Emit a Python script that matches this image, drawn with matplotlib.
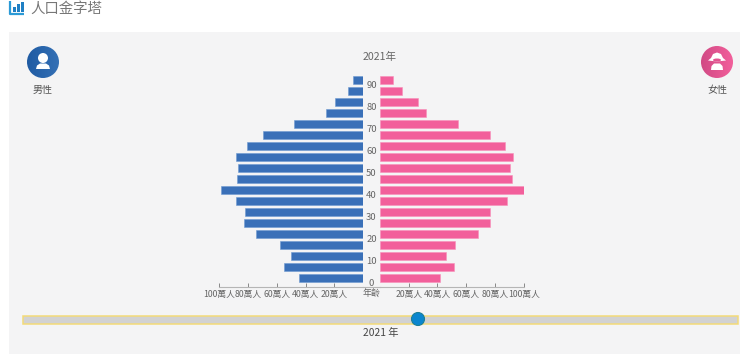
"""
Population pyramid for 2021
"""

import matplotlib
matplotlib.use('Agg')
import matplotlib.pyplot as plt
import numpy as np
from matplotlib.patches import Circle, Rectangle, Ellipse, Polygon

plt.rcParams['font.family'] = ['Noto Sans CJK TC', 'DejaVu Sans']

# Data, in units of 10,000 people, youngest group first
age_groups = [0, 5, 10, 15, 20, 25, 30, 35, 40, 45, 50, 55, 60, 65, 70, 75, 80, 85, 90]
male = [44.8, 55, 49.9, 57.5, 74.2, 82.6, 81.9, 88.3, 98.6, 88, 87.2, 88.6, 81, 69.6, 47.8, 25.5, 19.2, 10.2, 6.7]
female = [41.7, 51.2, 45.9, 52.2, 68.2, 76.5, 76.5, 88.6, 101, 91.8, 90.2, 92.5, 87, 76.8, 54.5, 31.8, 26.7, 15.5, 8.8]
x_ticks = [20, 40, 60, 80, 100]
age_ticks = [0, 10, 20, 30, 40, 50, 60, 70, 80, 90]

W, H = 740, 354
BLUE = '#3a70b8'
PINK = '#f25f9b'
GRAY = '#666666'

fig = plt.figure(figsize=(W / 100, H / 100), dpi=100, facecolor='white')


def axes_px(x0, y0, x1, y1, **kwargs):
    """Axes placed by pixel box, y measured from the top"""
    return fig.add_axes([x0 / W, 1 - y1 / H, (x1 - x0) / W, (y1 - y0) / H], **kwargs)


# Background layer in pixel coordinates
bg = axes_px(0, 0, W, H)
bg.set_xlim(0, W)
bg.set_ylim(H, 0)
bg.axis('off')
bg.add_patch(Rectangle((9, 32), 731, 322, facecolor='#f4f4f5', edgecolor='none'))


def gradient_circle(cx, cy, r, dark, light):
    """Circle badge with a left to right colour gradient"""
    c0 = np.array(matplotlib.colors.to_rgb(dark))
    c1 = np.array(matplotlib.colors.to_rgb(light))
    t = np.linspace(0, 1, 64)[None, :, None]
    img = bg.imshow(c0 + (c1 - c0) * t, extent=(cx - r, cx + r, cy + r, cy - r),
                    aspect='auto', zorder=2)
    img.set_clip_path(Circle((cx, cy), r, transform=bg.transData))


gradient_circle(43, 62, 16, '#1f5ba3', '#3470b5')
bg.add_patch(Circle((43, 58), 5, facecolor='white', zorder=3))
bg.add_patch(Polygon([(36, 69), (37, 65.5), (40, 63.5), (46, 63.5), (49, 65.5), (50, 69)],
                     facecolor='white', zorder=3))

gradient_circle(717, 62, 16, '#d14a85', '#f25f9b')
bg.add_patch(Polygon([(717, 52.5), (721, 54), (723, 58), (726, 60.5), (717, 61.5),
                      (708, 60.5), (711, 58), (713, 54)], facecolor='white', zorder=3))
bg.add_patch(Ellipse((717, 60), 8, 3, facecolor='#e2548f', zorder=3))
bg.add_patch(Polygon([(711, 70), (711.5, 66), (714, 63.5), (720, 63.5), (722.5, 66), (723, 70)],
                     facecolor='white', zorder=3))

bg.text(43, 90, '男性', ha='center', va='center', fontsize=7.2, color='#555555')
bg.text(717, 90.5, '女性', ha='center', va='center', fontsize=7.2, color='#555555')
bg.text(380, 56.5, '2021年', ha='center', va='center', fontsize=7.6, color=GRAY)

# Title and its icon
bg.plot([10, 10, 24], [1, 13.5, 13.5], color='#2b9ad6', linewidth=1.6, solid_capstyle='butt')
for bx, top in [(12.5, 7), (16.5, 4), (20.5, 1.5)]:
    bg.add_patch(Rectangle((bx, top), 3.2, 12 - top, facecolor='#1f7fc4', edgecolor='none'))
bg.text(30, 9, '人口金字塔', ha='left', va='center', fontsize=10.4, color='#777777')

# Year slider
bg.add_patch(Rectangle((22.5, 315.5), 715, 8, facecolor='#d2d2d2', edgecolor='#f3da78', linewidth=1.1))
bg.add_patch(Circle((418, 319), 6.5, facecolor='#0a86cf', edgecolor='#1c7f96', linewidth=0.8, zorder=3))
bg.text(380.5, 332.5, '2021 年', ha='center', va='center', fontsize=7.4, color='#444444')

bg.plot([363, 380], [286.7, 286.7], color='#b5b5b5', linewidth=0.8)
bg.text(372, 293.5, '年齡', ha='center', va='center', fontsize=6.5, color=GRAY)

# Pyramid, one axes per side
band = 11.02
y_low = -(286.7 - 278.3) / band
y_high = 18 + (80 - 73) / band
y_pos = np.arange(len(age_groups))

ax_l = axes_px(219.3, 73, 363, 286.7)
ax_r = axes_px(380, 73, 523.7, 286.7)

ax_l.barh(y_pos, male, height=0.75, color=BLUE, edgecolor='#6f9bd1', linewidth=0.4)
ax_r.barh(y_pos, female, height=0.75, color=PINK, edgecolor='#f88fba', linewidth=0.4)
ax_l.set_xlim(100, 0)
ax_r.set_xlim(0, 100)

for ax in (ax_l, ax_r):
    ax.set_ylim(y_low, y_high)
    ax.patch.set_visible(False)
    ax.set_yticks([])
    ax.set_xticks(x_ticks)
    ax.set_xticklabels([f'{t}萬人' for t in x_ticks], fontsize=6.3, color=GRAY)
    ax.tick_params(axis='x', direction='in', length=3, width=0.7, color='#888888', pad=2.5)
    for side in ('top', 'left', 'right'):
        ax.spines[side].set_visible(False)
    ax.spines['bottom'].set_color('#b5b5b5')
    ax.spines['bottom'].set_linewidth(0.8)

# Age labels sit in the gap, at the lower edge of their band
for age in age_ticks:
    ax_l.annotate(str(age), xy=(0, age_groups.index(age)), xycoords='data',
                  xytext=(8.5, -5.2), textcoords='offset pixels',
                  ha='center', va='center', fontsize=6.8, color=GRAY)

plt.savefig('out.png', dpi=100)
